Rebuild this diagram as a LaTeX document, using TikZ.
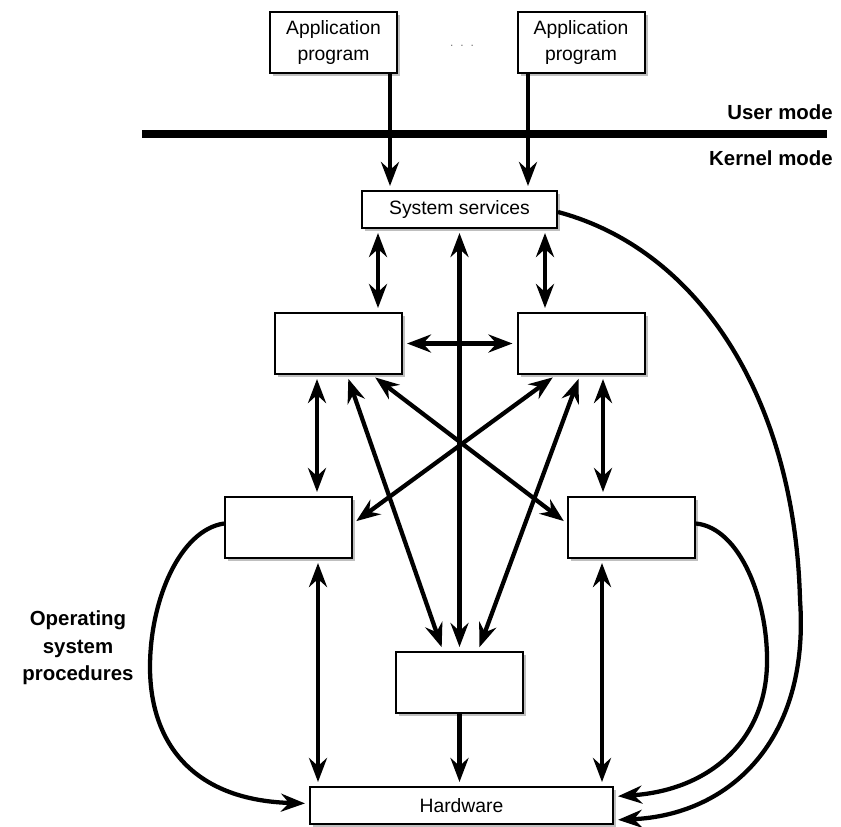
\documentclass[tikz,border=0pt]{standalone}
\usepackage{fontspec}
\setmainfont{Liberation Sans}
\usetikzlibrary{arrows.meta,shadows,calc}

\begin{document}
\begin{tikzpicture}[x=0.75pt,y=0.75pt,yscale=-1,xscale=1,
    >={Stealth[length=18pt,width=13.5pt,inset=6pt]},
    box/.style={draw,line width=1.5pt,fill=white,inner sep=0pt,align=center,
      minimum width=95.25pt,minimum height=45.75pt,
      font=\fontsize{14.5}{20}\selectfont,
      drop shadow={shadow xshift=2.5pt,shadow yshift=-2.5pt,fill=black!25,opacity=1}},
    flat/.style={box,minimum height=27.75pt},
    arr/.style={line width=3.2pt,->,shorten >=3pt},
    dbl/.style={line width=3.2pt,<->,shorten >=3pt,shorten <=3pt},
    lbl/.style={font=\fontsize{15.3}{20.6}\selectfont\bfseries,inner sep=0pt,align=center}]
    \useasboundingbox (0,0) rectangle (841,826);

    %Shape: Rectangle [application programs]
    \node[box] (app1) at (333.5,42.5) {Application\\program};
    \node[box] (app2) at (581,42.5) {Application\\program};
    % Text Node
    \node[inner sep=0pt,text=black!55,font=\fontsize{9}{9}\selectfont] (dots) at (462,46) {.\hspace{5.2pt}.\hspace{5.2pt}.};

    %Straight Lines [user/kernel boundary]
    \coordinate (bl) at (142,133.5);
    \coordinate (br) at (827,133.5);
    \draw[line width=6pt] (bl) -- (br);
    % Text Node
    \node[lbl,anchor=east] (user) at (833,112) {User mode};
    \node[lbl,anchor=east] (kern) at (833,158) {Kernel mode};

    %Shape: Rectangle [system services]
    \node[flat,minimum width=146.25pt] (ss) at (459.5,209.5) {System services};

    %Shape: Rectangle [procedures]
    \node[box] (pl1) at (338.5,343.5) {};
    \node[box] (pr1) at (581,343.5) {};
    \node[box] (pl2) at (288.5,527.5) {};
    \node[box] (pr2) at (631.5,527.5) {};
    \node[box] (pm) at (459.5,682.5) {};

    %Shape: Rectangle [hardware]
    \node[flat,minimum width=227.25pt] (hw) at (461.5,805.5) {Hardware};

    % Text Node
    \node[lbl] (osp) at (78,648) {Operating\\system\\procedures};

    %Straight Lines [calls into system services]
    \coordinate (a1) at ($(app1.south)+(56.5,0)$);
    \coordinate (a2) at ($(app2.south)+(-53,0)$);
    \draw[arr] (a1) -- (a1 |- ss.north);
    \draw[arr] (a2) -- (a2 |- ss.north);

    %Straight Lines [system services to procedures]
    \coordinate (s1) at ($(ss.south)+(-81.5,0)$);
    \coordinate (s2) at ($(ss.south)+(85.5,0)$);
    \draw[dbl] (s1) -- (s1 |- pl1.north);
    \draw[dbl] (s2) -- (s2 |- pr1.north);
    \draw[dbl] (ss.south) -- (pm.north);

    %Straight Lines [between procedures]
    \draw[dbl] (pl1.east) -- (pr1.west);
    \coordinate (l1) at ($(pl1.south)+(-21.5,0)$);
    \coordinate (r1) at ($(pr1.south)+(22,0)$);
    \draw[dbl] (l1) -- (l1 |- pl2.north);
    \draw[dbl] (r1) -- (r1 |- pr2.north);
    \draw[dbl] ($(pl1.south)+(8.5,0)$) -- ($(pm.north)+(-16.5,0)$);
    \draw[dbl] ($(pr1.south)+(-1,0)$) -- ($(pm.north)+(18.5,0)$);
    \draw[dbl] ($(pl1.south)+(33.5,0)$) -- ($(pr2.west)+(0,-4)$);
    \draw[dbl] ($(pr1.south)+(-25,0)$) -- ($(pl2.east)+(0,-4)$);

    %Straight Lines [procedures to hardware]
    \coordinate (l2) at ($(pl2.south)+(29.5,0)$);
    \coordinate (r2) at ($(pr2.south)+(-29.5,0)$);
    \draw[dbl] (l2) -- (l2 |- hw.north);
    \draw[dbl] (r2) -- (r2 |- hw.north);
    \draw[arr] (pm.south) -- (pm.south |- hw.north);

    %Curve Lines
    \draw[arr] ($(pl2.west)+(0,-4)$) .. controls (180,530) and (150,600) .. (150,667)
        .. controls (150,740) and (190,800) .. ($(hw.west)+(0,-2)$);
    \draw[arr] ($(pr2.east)+(0,-4)$) .. controls (740,528) and (768,600) .. (767,663)
        .. controls (766,740) and (710,790) .. ($(hw.east)+(0,-9)$);
    \draw[arr] ($(ss.east)+(0,2.5)$) .. controls (700,250) and (795,400) .. (800,600)
        .. controls (810,740) and (730,815) .. ($(hw.east)+(0,14.5)$);
\end{tikzpicture}
\end{document}
